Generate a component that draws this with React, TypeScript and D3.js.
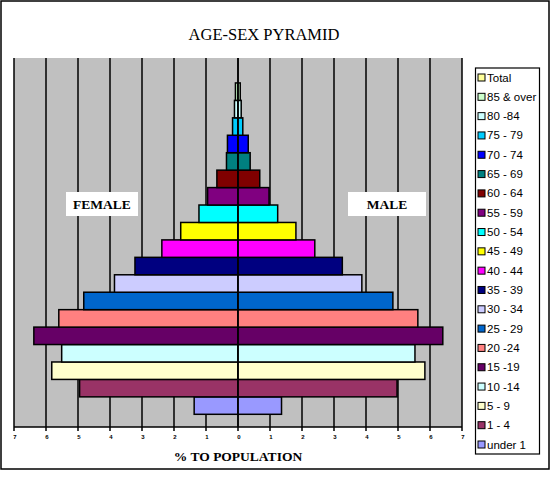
import React from "react";
import * as d3 from "d3";

// age groups, bottom of the pyramid first
const ageGroups = [
  "under 1", "1 - 4", "5 - 9", "10 -14", "15 -19", "20 -24", "25 - 29",
  "30 - 34", "35 - 39", "40 - 44", "45 - 49", "50 - 54", "55 - 59",
  "60 - 64", "65 - 69", "70 - 74", "75 - 79", "80 -84", "85 & over", "Total",
];

// % of population per age group (Total has no bar)
const femaleValues = [
  1.37, 4.95, 5.82, 5.51, 6.38, 5.6, 4.82, 3.86, 3.22, 2.38, 1.79, 1.22,
  0.95, 0.66, 0.36, 0.33, 0.17, 0.11, 0.08, 0,
];
const maleValues = [
  1.36, 4.97, 5.84, 5.53, 6.4, 5.62, 4.84, 3.87, 3.26, 2.4, 1.81, 1.24,
  0.97, 0.68, 0.38, 0.32, 0.15, 0.1, 0.07, 0,
];

const groupColors = [
  "#9999FF", "#993366", "#FFFFCC", "#CCFFFF", "#660066", "#FF8080", "#0066CC",
  "#CCCCFF", "#000080", "#FF00FF", "#FFFF00", "#00FFFF", "#800080",
  "#800000", "#008080", "#0000FF", "#00CCFF", "#CCFFFF", "#CCFFCC", "#FFFF99",
];

const tickValues = [-7, -6, -5, -4, -3, -2, -1, 0, 1, 2, 3, 4, 5, 6, 7];

const serif = "Liberation Serif, Times New Roman, serif";
const sans = "Liberation Sans, Arial, sans-serif";

const App = () => {
  const width = 557;
  const height = 481;
  const plot = { left: 14, right: 462, top: 58, bottom: 427 };

  const x = d3.scaleLinear().domain([-7, 7]).range([plot.left, plot.right]);
  // bands run upward from the bottom of the "under 1" bar
  const y = d3.scaleBand().domain(ageGroups).range([414.3, 65.5]).padding(0);
  const color = d3.scaleOrdinal<string, string>().domain(ageGroups).range(groupColors);

  const legendItems = ageGroups.slice().reverse();
  const legendY = d3.scalePoint().domain(legendItems).range([78, 445]);

  return (
    <svg
      width={width}
      height={height}
      style={{ position: "absolute", left: 0, top: 0, background: "#fff" }}
    >
      <rect x={1} y={1} width={548} height={468} fill="#fff" stroke="#000" strokeWidth={1.5} />

      <text x={264} y={40} textAnchor="middle" fontFamily={serif} fontSize={16.5}>
        AGE-SEX PYRAMID
      </text>

      {/* plot area */}
      <rect x={plot.left} y={plot.top} width={plot.right - plot.left} height={plot.bottom - plot.top} fill="#C0C0C0" />
      {tickValues.map((t) => (
        <line key={"g" + t} x1={x(t)} x2={x(t)} y1={plot.top} y2={plot.bottom} stroke="#000" strokeWidth={1.5} />
      ))}

      {/* female bars to the left, male to the right */}
      {ageGroups.map((g, i) =>
        femaleValues[i] > 0 ? (
          <rect
            key={"f" + g}
            x={x(-femaleValues[i])}
            y={y(g)}
            width={x(0) - x(-femaleValues[i])}
            height={y.bandwidth()}
            fill={color(g)}
            stroke="#000"
            strokeWidth={1.5}
          />
        ) : null
      )}
      {ageGroups.map((g, i) =>
        maleValues[i] > 0 ? (
          <rect
            key={"m" + g}
            x={x(0)}
            y={y(g)}
            width={x(maleValues[i]) - x(0)}
            height={y.bandwidth()}
            fill={color(g)}
            stroke="#000"
            strokeWidth={1.5}
          />
        ) : null
      )}
      <line x1={x(0)} x2={x(0)} y1={plot.top} y2={plot.bottom} stroke="#000" strokeWidth={1.5} />

      {/* bottom axis */}
      <line x1={plot.left} x2={plot.right} y1={plot.bottom} y2={plot.bottom} stroke="#000" strokeWidth={1.5} />
      {tickValues.map((t) => (
        <g key={"t" + t}>
          <line x1={x(t)} x2={x(t)} y1={plot.bottom} y2={plot.bottom + 4} stroke="#000" strokeWidth={1.5} />
          <text x={x(t) + 1} y={plot.bottom + 12} textAnchor="middle" fontFamily={sans} fontSize={6} fontWeight="bold">
            {Math.abs(t)}
          </text>
        </g>
      ))}
      <text x={238} y={461} textAnchor="middle" fontFamily={serif} fontSize={13.5} fontWeight="bold">
        % TO POPULATION
      </text>

      {/* side labels */}
      <rect x={66} y={192} width={72} height={24} fill="#fff" />
      <text x={102} y={209} textAnchor="middle" fontFamily={serif} fontSize={13.5} fontWeight="bold">
        FEMALE
      </text>
      <rect x={348} y={192} width={78} height={24} fill="#fff" />
      <text x={387} y={209} textAnchor="middle" fontFamily={serif} fontSize={13.5} fontWeight="bold">
        MALE
      </text>

      {/* legend */}
      <rect x={475.5} y={68} width={64} height={386} fill="#fff" stroke="#000" strokeWidth={1.2} />
      {legendItems.map((g) => (
        <g key={"l" + g} transform={`translate(478,${legendY(g)})`}>
          <rect x={0} y={-4} width={7} height={7} fill={color(g)} stroke="#000" strokeWidth={1} />
          <text x={9} y={3.5} fontFamily={sans} fontSize={11.5}>
            {g}
          </text>
        </g>
      ))}
    </svg>
  );
};

export default App;
